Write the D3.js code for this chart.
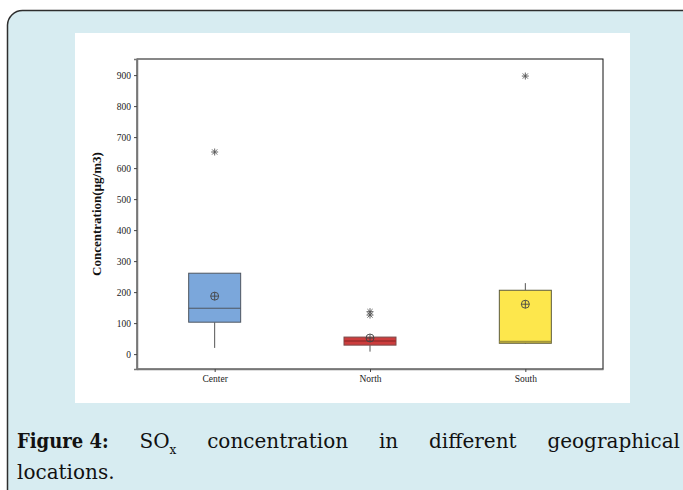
<!DOCTYPE html>
<html>
<head>
<meta charset="utf-8">
<script src="https://cdn.jsdelivr.net/npm/d3@7/dist/d3.min.js"></script>
<style>
  body { margin: 0; background: #fff; }
  svg { display: block; }
</style>
</head>
<body>
<div id="chart"></div>
<script>
// values
const categories = ['Center', 'North', 'South'];
const q1 = [103, 29, 35];
const median = [148, 42, 40];
const q3 = [261, 55, 206];
const whiskerLow = [20, 8, 33];
const whiskerHigh = [261, 55, 229];
const means = [187, 52, 161];
const outliers = [[652], [137, 126], [897]];
const yTicks = [0, 100, 200, 300, 400, 500, 600, 700, 800, 900];

const fills = ['#7ba7db', '#cc3d3d', '#fde74c'];
const strokes = ['#4f5660', '#7a4a4a', '#5c5a3c'];
const medianColors = ['#4f5660', '#a83030', '#a3963a'];

var width = 683, height = 490;
var frame = {left: 137, top: 59, right: 603, bottom: 369};

var svg = d3.select('#chart').append('svg')
    .attr('width', width)
    .attr('height', height);

// panel background with rounded corner
svg.append('path')
    .attr('d', 'M7.5,' + height + ' V25 A15,15 0 0 1 22.5,10.5 H' + width + ' V' + height + ' Z')
    .attr('fill', '#d7ecf1');
svg.append('path')
    .attr('d', 'M7.5,' + height + ' V25 A15,15 0 0 1 22.5,10.5 H' + width)
    .attr('fill', 'none')
    .attr('stroke', '#2e2e2e')
    .attr('stroke-width', 1.5);

svg.append('rect')
    .attr('x', 75).attr('y', 33)
    .attr('width', 555).attr('height', 370)
    .attr('fill', '#fff');

var x = d3.scalePoint()
    .domain(categories)
    .range([frame.left, frame.right])
    .padding(0.5);

var y = d3.scaleLinear()
    .domain([-48, 952])
    .range([frame.bottom, frame.top]);

var boxW = 52;

svg.append('rect')
    .attr('x', frame.left).attr('y', frame.top)
    .attr('width', frame.right - frame.left)
    .attr('height', frame.bottom - frame.top)
    .attr('fill', 'none')
    .attr('stroke', '#111')
    .attr('stroke-width', 1);

var yAxis = svg.append('g')
    .attr('transform', 'translate(' + frame.left + ',0)')
    .call(d3.axisLeft(y).tickValues(yTicks).tickSize(3).tickPadding(3));
yAxis.select('.domain').attr('stroke', '#777').attr('stroke-width', 1.5);
yAxis.selectAll('.tick line').attr('stroke', '#444');
yAxis.selectAll('text')
    .attr('font-family', 'Liberation Serif, serif')
    .attr('font-size', 9.5)
    .attr('fill', '#222');

var xAxis = svg.append('g')
    .attr('transform', 'translate(0,' + frame.bottom + ')')
    .call(d3.axisBottom(x).tickSize(3).tickPadding(3).tickSizeOuter(0));
xAxis.select('.domain').attr('stroke', '#777').attr('stroke-width', 1.5);
xAxis.selectAll('.tick line').attr('stroke', '#444');
xAxis.selectAll('text')
    .attr('font-family', 'Liberation Serif, serif')
    .attr('font-size', 9.5)
    .attr('fill', '#222');

svg.append('text')
    .attr('transform', 'translate(101,' + ((frame.top + frame.bottom) / 2) + ') rotate(-90)')
    .attr('text-anchor', 'middle')
    .attr('font-family', 'Liberation Serif, serif')
    .attr('font-weight', 'bold')
    .attr('font-size', 13)
    .attr('fill', '#111')
    .text('Concentration(µg/m3)');

var boxes = svg.selectAll('.box')
    .data(categories)
  .enter().append('g')
    .attr('class', 'box');

// whiskers
boxes.append('line')
    .attr('x1', d => x(d)).attr('x2', d => x(d))
    .attr('y1', (d, i) => y(whiskerLow[i]))
    .attr('y2', (d, i) => y(q1[i]))
    .attr('stroke', '#555');
boxes.append('line')
    .attr('x1', d => x(d)).attr('x2', d => x(d))
    .attr('y1', (d, i) => y(q3[i]))
    .attr('y2', (d, i) => y(whiskerHigh[i]))
    .attr('stroke', '#555');

boxes.append('rect')
    .attr('x', d => x(d) - boxW / 2)
    .attr('y', (d, i) => y(q3[i]))
    .attr('width', boxW)
    .attr('height', (d, i) => y(q1[i]) - y(q3[i]))
    .attr('fill', (d, i) => fills[i])
    .attr('stroke', (d, i) => strokes[i])
    .attr('stroke-width', 1);

boxes.append('line')
    .attr('x1', d => x(d) - boxW / 2).attr('x2', d => x(d) + boxW / 2)
    .attr('y1', (d, i) => y(median[i])).attr('y2', (d, i) => y(median[i]))
    .attr('stroke', (d, i) => medianColors[i])
    .attr('stroke-width', (d, i) => i === 0 ? 1 : 2);

// mean symbol: circle with cross
var meanG = boxes.append('g')
    .attr('transform', (d, i) => 'translate(' + x(d) + ',' + y(means[i]) + ')');
meanG.append('circle').attr('r', 4).attr('fill', 'none').attr('stroke', '#444').attr('stroke-width', 0.9);
meanG.append('line').attr('x1', -4).attr('x2', 4).attr('stroke', '#444').attr('stroke-width', 0.9);
meanG.append('line').attr('y1', -4).attr('y2', 4).attr('stroke', '#444').attr('stroke-width', 0.9);

// outliers as asterisks
var outData = [];
categories.forEach((c, i) => outliers[i].forEach(v => outData.push({c: c, v: v})));
var star = svg.selectAll('.outlier')
    .data(outData)
  .enter().append('g')
    .attr('class', 'outlier')
    .attr('transform', d => 'translate(' + x(d.c) + ',' + y(d.v) + ')');
[[0, -3.5, 0, 3.5], [-3.5, 0, 3.5, 0], [-2.6, -2.6, 2.6, 2.6], [-2.6, 2.6, 2.6, -2.6]].forEach(s => {
  star.append('line')
      .attr('x1', s[0]).attr('y1', s[1]).attr('x2', s[2]).attr('y2', s[3])
      .attr('stroke', '#555').attr('stroke-width', 0.9);
});

// caption, first line justified
var line1 = [
  {parts: [['Figure 4:', 'bold']]},
  {parts: [['SO', 'normal'], ['x', 'sub']]},
  {parts: [['concentration', 'normal']]},
  {parts: [['in', 'normal']]},
  {parts: [['different', 'normal']]},
  {parts: [['geographical', 'normal']]}
];
var cap = svg.append('g').attr('fill', '#111')
    .attr('font-family', 'DejaVu Serif, serif')
    .attr('font-size', 20);
var words = line1.map(w => {
  var t = cap.append('text').attr('y', 448);
  w.parts.forEach(p => {
    var ts = t.append('tspan').text(p[0]);
    if (p[1] === 'bold') ts.attr('font-weight', 'bold').attr('font-family', 'DejaVu Serif Condensed, serif').attr('font-size', 20);
    if (p[1] === 'sub') ts.attr('font-size', 12).attr('dy', 6);
  });
  return t;
});
var x0 = 17, x1 = 680;
var widths = words.map(t => t.node().getComputedTextLength());
var gap = (x1 - x0 - d3.sum(widths)) / (words.length - 1);
var cx = x0;
words.forEach((t, i) => { t.attr('x', cx); cx += widths[i] + gap; });

cap.append('text').attr('x', x0).attr('y', 479).text('locations.');
</script>
</body>
</html>
